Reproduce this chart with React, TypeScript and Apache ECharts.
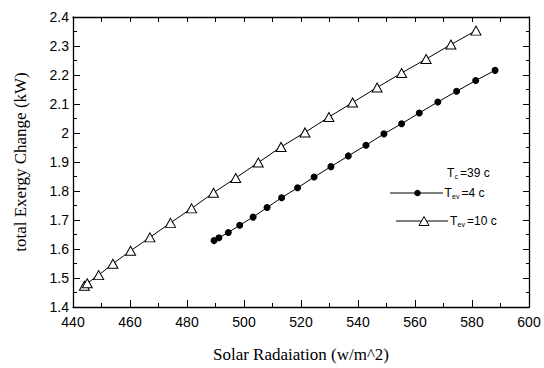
import React, { useEffect, useRef } from "react";
import * as echarts from "echarts";

const tev10X = [444, 445, 449, 454, 460.2, 467, 474.2, 481.6, 489.3, 497.1, 505, 513, 521.4, 529.8, 538.1, 546.7, 555.3, 563.9, 572.6, 581.4];
const tev10Y = [1.473, 1.482, 1.51, 1.549, 1.594, 1.64, 1.69, 1.74, 1.794, 1.845, 1.898, 1.952, 2.002, 2.055, 2.105, 2.157, 2.207, 2.255, 2.305, 2.353];

const tev4X = [489.5, 491.2, 494.5, 498.5, 503.2, 508.1, 513.2, 518.8, 524.6, 530.5, 536.6, 542.8, 549.1, 555.3, 561.5, 568.0, 574.6, 581.3, 588.1];
const tev4Y = [1.629, 1.639, 1.657, 1.682, 1.71, 1.743, 1.777, 1.811, 1.848, 1.884, 1.921, 1.958, 1.997, 2.032, 2.069, 2.107, 2.144, 2.181, 2.216];

const xLabel = "Solar Radaiation (w/m^2)";
const yLabel = "total Exergy Change (kW)";

const SANS = "Liberation Sans, Arial, sans-serif";
const SERIF = "Liberation Serif, Times New Roman, serif";

export default function App() {
  const ref = useRef<HTMLDivElement>(null);
  useEffect(() => {
    if (!ref.current) return;
    const chart = echarts.init(ref.current, null, { renderer: "svg" });
    const axisLine = { show: true, lineStyle: { color: "#000", width: 1.3 } };
    const txt = (x: number, y: number, s: string, size: number) => ({
      type: "text",
      x,
      y,
      style: { text: s, fontSize: size, fontFamily: SANS, fill: "#000", verticalAlign: "middle", align: "left" },
    });
    chart.setOption({
      animation: false,
      backgroundColor: "#fff",
      grid: { left: 73, right: 15, top: 17, bottom: 52 },
      xAxis: [
        {
          type: "value",
          min: 440,
          max: 600,
          interval: 20,
          position: "bottom",
          axisLine,
          axisTick: { show: true, inside: true, length: 7, lineStyle: { color: "#000" } },
          minorTick: { show: true, splitNumber: 2, length: 4, lineStyle: { color: "#000" } },
          splitLine: { show: false },
          axisLabel: { color: "#000", fontSize: 14, fontFamily: SANS, margin: 8 },
          name: xLabel,
          nameLocation: "middle",
          nameGap: 39,
          nameTextStyle: { color: "#000", fontSize: 17, fontFamily: SERIF },
        },
        {
          type: "value",
          min: 440,
          max: 600,
          interval: 10,
          position: "top",
          axisLine,
          axisTick: { show: true, inside: true, length: 5, lineStyle: { color: "#000" } },
          splitLine: { show: false },
          axisLabel: { show: false },
        },
      ],
      yAxis: [
        {
          type: "value",
          min: 1.4,
          max: 2.4,
          interval: 0.1,
          position: "left",
          axisLine,
          axisTick: { show: true, inside: true, length: 7, lineStyle: { color: "#000" } },
          minorTick: { show: true, splitNumber: 2, length: 4, lineStyle: { color: "#000" } },
          splitLine: { show: false },
          axisLabel: { color: "#000", fontSize: 14, fontFamily: SANS, margin: 4 },
          name: yLabel,
          nameLocation: "middle",
          nameGap: 44,
          nameTextStyle: { color: "#000", fontSize: 17, fontFamily: SERIF },
        },
        {
          type: "value",
          min: 1.4,
          max: 2.4,
          interval: 0.1,
          position: "right",
          axisLine,
          axisTick: { show: true, inside: true, length: 6, lineStyle: { color: "#000" } },
          minorTick: { show: true, splitNumber: 2, length: 3, lineStyle: { color: "#000" } },
          splitLine: { show: false },
          axisLabel: { show: false },
        },
      ],
      series: [
        {
          name: "Tev=10",
          type: "line",
          data: tev10X.map((x, i) => [x, tev10Y[i]]),
          symbol: "triangle",
          symbolSize: [10, 9],
          showAllSymbol: true,
          lineStyle: { color: "#000", width: 1 },
          itemStyle: { color: "#fff", borderColor: "#000", borderWidth: 1 },
          z: 3,
        },
        {
          name: "Tev=4",
          type: "line",
          data: tev4X.map((x, i) => [x, tev4Y[i]]),
          symbol: "circle",
          symbolSize: 7,
          showAllSymbol: true,
          lineStyle: { color: "#000", width: 1 },
          itemStyle: { color: "#000", borderColor: "#000", borderWidth: 0 },
          z: 3,
        },
      ],
      graphic: [
        txt(447, 173, "T", 12),
        txt(454.5, 176.5, "c", 7),
        txt(460, 173, "=39 c", 12),
        { type: "line", shape: { x1: 390, y1: 193, x2: 443, y2: 193 }, style: { stroke: "#000", lineWidth: 1 } },
        { type: "circle", shape: { cx: 417.5, cy: 193, r: 3.3 }, style: { fill: "#000" } },
        txt(444.5, 193, "T", 12),
        txt(452, 196.5, "ev", 7),
        txt(461.5, 193, "=4 c", 12),
        { type: "line", shape: { x1: 396, y1: 221, x2: 448, y2: 221 }, style: { stroke: "#000", lineWidth: 1 } },
        {
          type: "polygon",
          shape: { points: [[424, 216.5], [429, 225.5], [419, 225.5]] },
          style: { fill: "#fff", stroke: "#000", lineWidth: 1 },
        },
        txt(450, 221, "T", 12),
        txt(457.5, 224.5, "ev", 7),
        txt(467, 221, "=10 c", 12),
      ],
    });
    return () => chart.dispose();
  }, []);
  return <div ref={ref} style={{ width: 544, height: 368, position: "absolute", left: 0, top: 0 }} />;
}
